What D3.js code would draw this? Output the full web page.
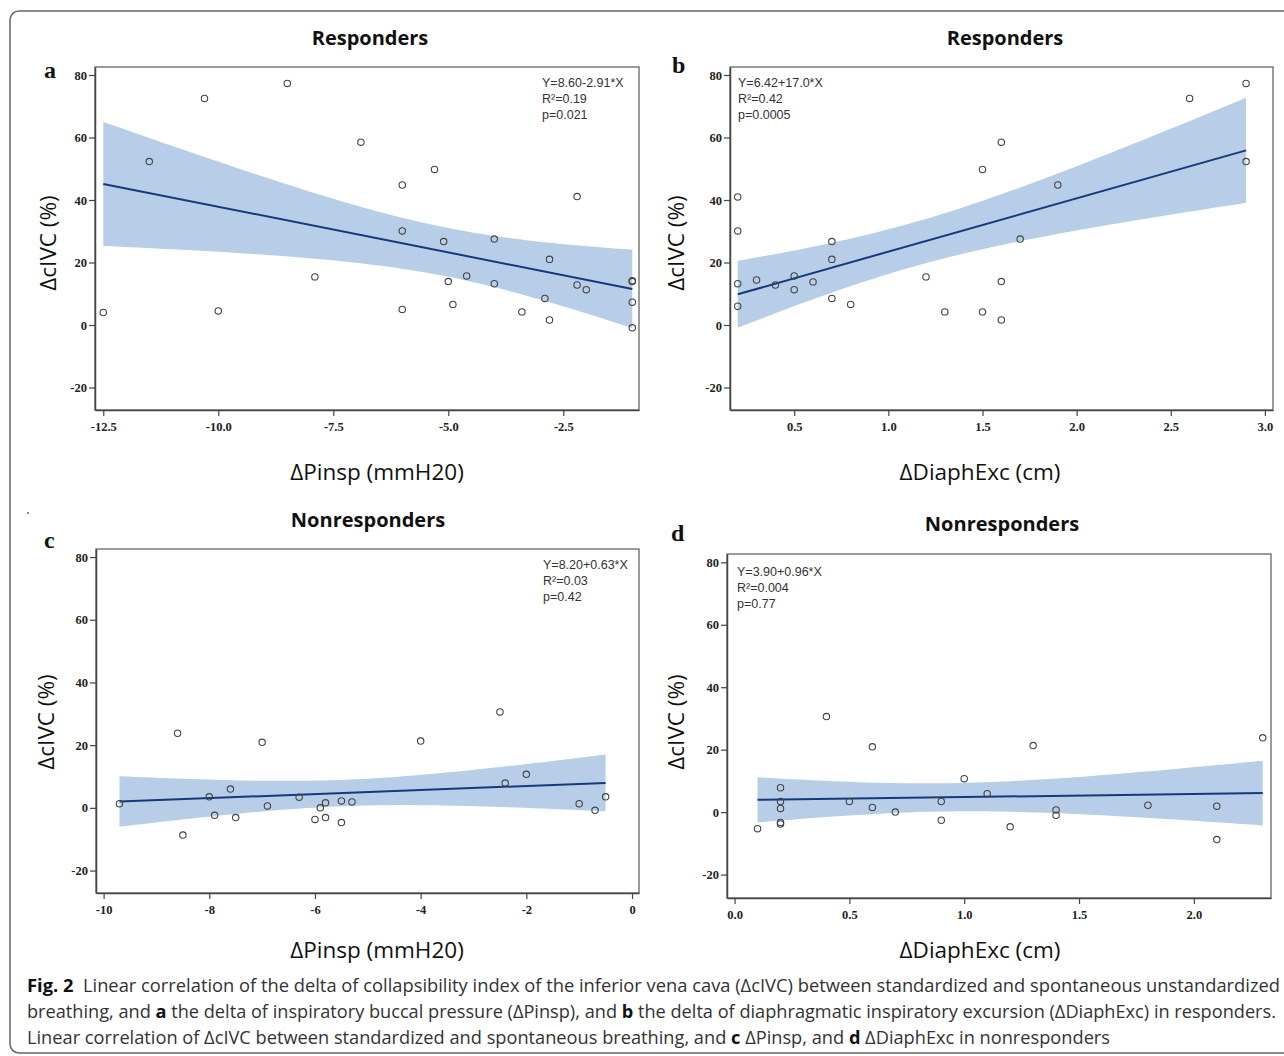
<!DOCTYPE html>
<html>
<head>
<meta charset="utf-8">
<script src="https://cdn.jsdelivr.net/npm/d3@7"></script>
<style>
  body { margin: 0; background: #fff; }
  svg { display: block; }
</style>
</head>
<body>
<div id="chart"></div>
<script>
// Values
const yTicks = [-20, 0, 20, 40, 60, 80];

// a: responders, dPinsp vs dcIVC
const aX = [-12.5, -11.5, -10.3, -10.0, -8.5, -7.9, -6.9, -6.0, -6.0, -6.0, -5.3, -5.1, -5.0, -4.9,
  -4.6, -4.0, -4.0, -3.4, -2.9, -2.8, -2.8, -2.2, -2.2, -2.0, -1.0, -1.0, -1.0, -1.0];
const aY = [4.0, 52.3, 72.5, 4.5, 77.3, 15.4, 58.5, 44.8, 30.1, 5.0, 49.8, 26.7, 13.9, 6.6,
  15.7, 27.5, 13.2, 4.2, 8.5, 21.0, 1.6, 41.1, 12.8, 11.3, 14.2, 13.9, 7.3, -0.9];
const aTicks = [-12.5, -10.0, -7.5, -5.0, -2.5];

// b: responders, dDiaphExc vs dcIVC
const bX = [0.2, 0.2, 0.2, 0.2, 0.3, 0.4, 0.5, 0.5, 0.6, 0.7, 0.7, 0.7, 0.8, 1.2, 1.3,
  1.5, 1.6, 1.9, 1.7, 1.6, 1.5, 1.6, 2.6, 2.9, 2.9];
const bY = [41.0, 30.1, 13.2, 6.0, 14.4, 12.8, 15.7, 11.3, 13.8, 26.7, 21.0, 8.5, 6.6, 15.4, 4.2,
  49.8, 58.5, 44.8, 27.5, 13.9, 4.2, 1.6, 72.5, 77.3, 52.3];
const bTicks = [0.5, 1.0, 1.5, 2.0, 2.5, 3.0];

// c: nonresponders, dPinsp vs dcIVC
const cX = [-9.7, -8.6, -8.5, -8.0, -7.9, -7.6, -7.5, -7.0, -6.9, -6.3, -6.0, -5.9, -5.8, -5.8,
  -5.5, -5.5, -5.3, -4.0, -2.5, -2.4, -2.0, -1.0, -0.7, -0.5];
const cY = [1.3, 23.8, -8.7, 3.5, -2.4, 6.0, -3.1, 20.9, 0.6, 3.4, -3.7, 0.0, 1.6, -3.1,
  2.2, -4.7, 1.9, 21.3, 30.6, 7.9, 10.7, 1.3, -0.8, 3.5];
const cTicks = [-10, -8, -6, -4, -2, 0];

// d: nonresponders, dDiaphExc vs dcIVC
const dX = [0.1, 0.2, 0.2, 0.2, 0.2, 0.2, 0.4, 0.5, 0.6, 0.6, 0.7, 0.9, 0.9, 1.0, 1.1, 1.2,
  1.3, 1.4, 1.4, 1.8, 2.1, 2.1, 2.3];
const dY = [-5.3, 7.8, 3.4, 1.2, -3.3, -3.8, 30.6, 3.4, 20.9, 1.5, 0.0, 3.4, -2.6, 10.7, 5.9, -4.7,
  21.3, 0.7, -1.0, 2.2, 1.9, -8.8, 23.8];
const dTicks = [0.0, 0.5, 1.0, 1.5, 2.0];

const statsA = ['Y=8.60-2.91*X', 'R²=0.19', 'p=0.021'];
const statsB = ['Y=6.42+17.0*X', 'R²=0.42', 'p=0.0005'];
const statsC = ['Y=8.20+0.63*X', 'R²=0.03', 'p=0.42'];
const statsD = ['Y=3.90+0.96*X', 'R²=0.004', 'p=0.77'];

const width = 1284;
const height = 1056;

// plain hyphen for negatives, like the original
const loc = d3.formatLocale({ decimal: '.', thousands: ',', grouping: [3], currency: ['', ''], minus: '-' });
const fmt1 = loc.format('.1f');
const fmt0 = loc.format('d');

const svg = d3.select('#chart')
  .append('svg')
  .attr('width', width)
  .attr('height', height);

// rounded frame round the figure
svg.append('rect')
  .attr('x', 10).attr('y', 11)
  .attr('width', 1300).attr('height', 1042)
  .attr('rx', 9)
  .attr('fill', 'none')
  .attr('stroke', '#666')
  .attr('stroke-width', 1.5);

const panels = [
  { letter: 'a', title: 'Responders', xLabel: 'ΔPinsp (mmH20)', xs: aX, ys: aY, ticks: aTicks, fmt: fmt1,
    box: { l: 95, r: 639, t: 67, b: 410 }, xDom: [-12.68, -0.854], yDom: [-27.2, 82.56],
    stats: statsA, statX: 542, statY: 87, letterPos: [44, 78], titlePos: [370, 45], yLabPos: [49, 243], xLabPos: [377, 480] },
  { letter: 'b', title: 'Responders', xLabel: 'ΔDiaphExc (cm)', xs: bX, ys: bY, ticks: bTicks, fmt: fmt1,
    box: { l: 730, r: 1273, t: 67, b: 410 }, xDom: [0.159, 3.043], yDom: [-27.2, 82.56],
    stats: statsB, statX: 738, statY: 87, letterPos: [672, 73], titlePos: [1005, 45], yLabPos: [677, 243], xLabPos: [980, 480] },
  { letter: 'c', title: 'Nonresponders', xLabel: 'ΔPinsp (mmH20)', xs: cX, ys: cY, ticks: cTicks, fmt: fmt0,
    box: { l: 96, r: 639, t: 549, b: 893 }, xDom: [-10.144, 0.132], yDom: [-27.16, 82.56],
    stats: statsC, statX: 543, statY: 569, letterPos: [44, 548], titlePos: [368, 527], yLabPos: [47, 722], xLabPos: [377, 958] },
  { letter: 'd', title: 'Nonresponders', xLabel: 'ΔDiaphExc (cm)', xs: dX, ys: dY, ticks: dTicks, fmt: fmt1,
    box: { l: 727, r: 1271, t: 554, b: 898 }, xDom: [-0.033, 2.336], yDom: [-27.5, 82.66],
    stats: statsD, statX: 737, statY: 576, letterPos: [671, 541], titlePos: [1002, 531], yLabPos: [677, 722], xLabPos: [980, 958] }
];

// two-sided 95% t quantile (Cornish-Fisher expansion)
function tCrit(df) {
  const z = 1.959964;
  return z + (z ** 3 + z) / (4 * df) + (5 * z ** 5 + 16 * z ** 3 + 3 * z) / (96 * df * df);
}

// least squares fit with confidence band of the mean
function fit(xs, ys) {
  const n = xs.length;
  const mx = d3.mean(xs);
  const my = d3.mean(ys);
  let sxx = 0, sxy = 0;
  xs.forEach((x, i) => { sxx += (x - mx) ** 2; sxy += (x - mx) * (ys[i] - my); });
  const slope = sxy / sxx;
  const icpt = my - slope * mx;
  let sse = 0;
  xs.forEach((x, i) => { sse += (ys[i] - icpt - slope * x) ** 2; });
  const s = Math.sqrt(sse / (n - 2));
  const t = tCrit(n - 2);
  const half = x => t * s * Math.sqrt(1 / n + (x - mx) ** 2 / sxx);
  return { slope, icpt, half };
}

panels.forEach(p => {
  const g = svg.append('g');
  const x = d3.scaleLinear().domain(p.xDom).range([p.box.l, p.box.r]);
  const y = d3.scaleLinear().domain(p.yDom).range([p.box.b, p.box.t]);

  const f = fit(p.xs, p.ys);
  const [x0, x1] = d3.extent(p.xs);
  const steps = d3.range(0, 61).map(i => x0 + (x1 - x0) * i / 60);

  // confidence band
  g.append('path')
    .datum(steps)
    .attr('fill', '#b8cee8')
    .attr('d', d3.area()
      .x(d => x(d))
      .y0(d => y(f.icpt + f.slope * d - f.half(d)))
      .y1(d => y(f.icpt + f.slope * d + f.half(d))));

  // fit line
  g.append('line')
    .attr('x1', x(x0)).attr('y1', y(f.icpt + f.slope * x0))
    .attr('x2', x(x1)).attr('y2', y(f.icpt + f.slope * x1))
    .attr('stroke', '#15397a')
    .attr('stroke-width', 2);

  // plot frame
  g.append('rect')
    .attr('x', p.box.l).attr('y', p.box.t)
    .attr('width', p.box.r - p.box.l).attr('height', p.box.b - p.box.t)
    .attr('fill', 'none')
    .attr('stroke', '#666')
    .attr('stroke-width', 1.3);

  const yAxis = g.append('g')
    .attr('transform', `translate(${p.box.l},0)`)
    .call(d3.axisLeft(y).tickValues(yTicks).tickFormat(fmt0).tickSize(6).tickSizeOuter(0).tickPadding(2));
  const xAxis = g.append('g')
    .attr('transform', `translate(0,${p.box.b})`)
    .call(d3.axisBottom(x).tickValues(p.ticks).tickFormat(p.fmt).tickSize(6).tickSizeOuter(0).tickPadding(6));

  [yAxis, xAxis].forEach(ax => {
    ax.select('.domain').attr('stroke', '#444').attr('stroke-width', 1.5);
    ax.selectAll('.tick line').attr('stroke', '#444').attr('stroke-width', 1.2);
    ax.selectAll('.tick text')
      .attr('font-family', '"Liberation Serif", serif')
      .attr('font-weight', 'bold')
      .attr('font-size', 12.5)
      .attr('fill', '#222');
  });

  // points
  g.selectAll('circle.pt')
    .data(p.xs.map((d, i) => [d, p.ys[i]]))
    .join('circle')
    .attr('class', 'pt')
    .attr('cx', d => x(d[0]))
    .attr('cy', d => y(d[1]))
    .attr('r', 3.2)
    .attr('fill', 'none')
    .attr('stroke', '#444')
    .attr('stroke-width', 1.1);

  // equation text
  g.selectAll('text.stat')
    .data(p.stats)
    .join('text')
    .attr('class', 'stat')
    .attr('x', p.statX)
    .attr('y', (d, i) => p.statY + i * 16)
    .attr('font-family', '"Liberation Sans", Arial, sans-serif')
    .attr('font-size', 12.5)
    .attr('fill', '#333')
    .text(d => d);

  svg.append('text')
    .attr('x', p.letterPos[0]).attr('y', p.letterPos[1])
    .attr('font-family', '"Liberation Serif", serif')
    .attr('font-weight', 'bold')
    .attr('font-size', 24)
    .attr('fill', '#111')
    .text(p.letter);

  svg.append('text')
    .attr('x', p.titlePos[0]).attr('y', p.titlePos[1])
    .attr('text-anchor', 'middle')
    .attr('font-family', '"Open Sans", sans-serif')
    .attr('font-weight', 'bold')
    .attr('font-size', 20)
    .attr('fill', '#111')
    .text(p.title);

  svg.append('text')
    .attr('transform', `translate(${p.yLabPos[0] + 7},${p.yLabPos[1]}) rotate(-90)`)
    .attr('text-anchor', 'middle')
    .attr('font-family', '"Open Sans", sans-serif')
    .attr('font-size', 22.5)
    .attr('fill', '#111')
    .text('ΔcIVC (%)');

  svg.append('text')
    .attr('x', p.xLabPos[0]).attr('y', p.xLabPos[1])
    .attr('text-anchor', 'middle')
    .attr('font-family', '"Open Sans", sans-serif')
    .attr('font-size', 22.5)
    .attr('fill', '#111')
    .text(p.xLabel);
});

// stray dot in the scan
svg.append('circle').attr('cx', 28).attr('cy', 513).attr('r', 0.9).attr('fill', '#555');

// caption
const captionLines = [
  { len: 1253, parts: [['Fig. 2', true], ['  Linear correlation of the delta of collapsibility index of the inferior vena cava (ΔcIVC) between standardized and spontaneous unstandardized', false]] },
  { len: 1249, parts: [['breathing, and ', false], ['a', true], [' the delta of inspiratory buccal pressure (ΔPinsp), and ', false], ['b', true], [' the delta of diaphragmatic inspiratory excursion (ΔDiaphExc) in responders.', false]] },
  { len: 1083, parts: [['Linear correlation of ΔcIVC between standardized and spontaneous breathing, and ', false], ['c', true], [' ΔPinsp, and ', false], ['d', true], [' ΔDiaphExc in nonresponders', false]] }
];

captionLines.forEach((line, i) => {
  const t = svg.append('text')
    .attr('x', 27)
    .attr('y', 992 + i * 26)
    .attr('font-family', '"Open Sans", sans-serif')
    .attr('font-size', 18)
    .attr('fill', '#333')
    .attr('textLength', line.len)
    .attr('lengthAdjust', 'spacingAndGlyphs')
    .style('white-space', 'pre');
  line.parts.forEach(([s, bold]) => {
    t.append('tspan')
      .attr('font-weight', bold ? 'bold' : 'normal')
      .attr('fill', bold ? '#111' : '#333')
      .text(s);
  });
});
</script>
</body>
</html>
